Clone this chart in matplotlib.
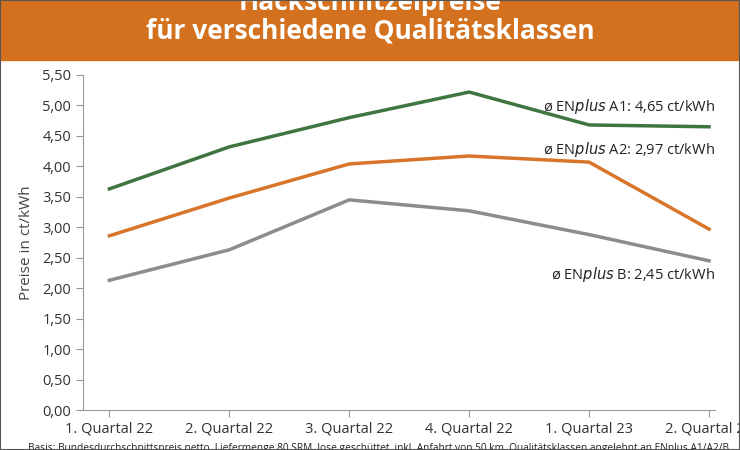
import matplotlib
matplotlib.use("Agg")
import matplotlib.pyplot as plt
from matplotlib.patches import Rectangle

categories = ["1. Quartal 22", "2. Quartal 22", "3. Quartal 22", "4. Quartal 22", "1. Quartal 23", "2. Quartal 23"]
a1 = [3.63, 4.32, 4.80, 5.22, 4.68, 4.65]
a2 = [2.86, 3.48, 4.04, 4.17, 4.07, 2.97]
b = [2.13, 2.63, 3.45, 3.27, 2.88, 2.45]
yticks = [i * 0.5 for i in range(12)]

plt.rcParams["font.family"] = ["Open Sans", "DejaVu Sans"]
W, H = 740, 450
fig = plt.figure(figsize=(W/100, H/100), dpi=100)
fig.patches.append(Rectangle((0, 1-60/H), 1, 60/H, transform=fig.transFigure, color="#D4711E", zorder=0))
fig.patches.append(Rectangle((0, 0), 1, 1, transform=fig.transFigure, fill=False, edgecolor="#555555", lw=1.5, zorder=5))
fig.text(0.5, 1-2/H, "Hackschnitzelpreise", ha="center", va="center", color="white", fontsize=19, fontweight="bold")
fig.text(0.5, 1-31/H, "für verschiedene Qualitätsklassen", ha="center", va="center", color="white", fontsize=19, fontweight="bold")

ax = fig.add_axes([83/W, 1-410/H, (715-83)/W, (410-75)/H])
x = range(len(categories))
ax.plot(x, a1, color="#3E7540", lw=2.5)
ax.plot(x, a2, color="#D9752A", lw=2.5)
ax.plot(x, b, color="#8C8C8C", lw=2.5)
ax.set_xlim(-0.22, 5.05)
ax.set_ylim(0, 5.5)
ax.set_yticks(yticks)
ax.set_yticklabels([f"{v:.2f}".replace(".", ",") for v in yticks], fontsize=10.5, color="#333333")
ax.set_xticks(list(x))
ax.set_xticklabels(categories, fontsize=10.5, color="#333333")
for s in ["top", "right"]:
    ax.spines[s].set_visible(False)
for s in ["left", "bottom"]:
    ax.spines[s].set_color("#999999")
ax.tick_params(color="#999999", length=5)
ax.set_ylabel("Preise in ct/kWh", fontsize=11, color="#444444", labelpad=6)

def lab(y, name, val):
    ax.text(5.05, y, f"ø EN$\\it{{plus}}$ {name}: {val} ct/kWh", ha="right", va="center", fontsize=10.5, color="#222222")
lab(4.98, "A1", "4,65")
lab(4.28, "A2", "2,97")
lab(2.22, "B", "2,45")

fig.text(28/W, 2/H, "Basis: Bundesdurchschnittspreis netto, Liefermenge 80 SRM, lose geschüttet, inkl. Anfahrt von 50 km, Qualitätsklassen angelehnt an ENplus A1/A2/B",
         ha="left", va="center", fontsize=7.3, color="#222222")
fig.savefig("out.png", dpi=100)
